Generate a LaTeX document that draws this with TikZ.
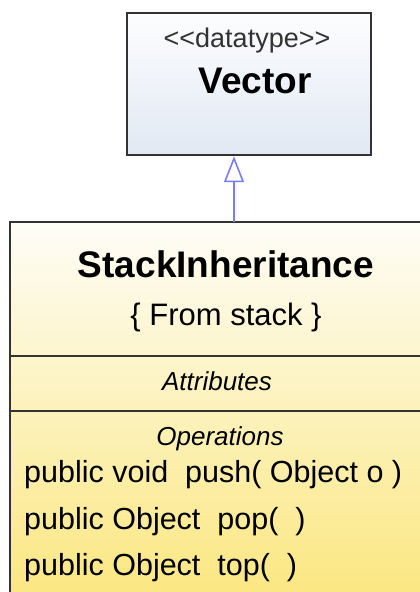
\documentclass[tikz,border=0pt]{standalone}
\usepackage{fontspec}
\setmainfont{Liberation Sans}
\usetikzlibrary{arrows.meta}
\definecolor{boxline}{HTML}{333333}
\definecolor{vtop}{HTML}{FDFDFE}
\definecolor{vbot}{HTML}{E1E9F4}
\definecolor{stop}{HTML}{FEFDF7}
\definecolor{sbot}{HTML}{FBE67C}
\definecolor{genblue}{HTML}{7B7BFF}
\tikzset{
  classbox/.style={draw=boxline, line width=2.4pt, rectangle, inner sep=0pt},
  txt/.style={inner sep=0pt, anchor=base, text=black},
  optxt/.style={inner sep=0pt, anchor=base west, text=black, font=\fontsize{30.5}{36}\selectfont},
  sepline/.style={draw=boxline, line width=2.4pt},
  gen/.style={draw=genblue, line width=1.6pt, -{Triangle[open, length=26pt, width=20pt, line width=1.6pt]}}
}
\begin{document}
\begin{tikzpicture}[x=1pt, y=-1pt]
\useasboundingbox (0,0) rectangle (420,592);
\fill[white] (0,0) rectangle (420,592);
\clip (0,0) rectangle (420,592);
% Vector class
\node[classbox, top color=vtop, bottom color=vbot, minimum width=244pt, minimum height=142pt] (vector) at (249,84) {};
\node[txt, font=\fontsize{27}{32}\selectfont, text=black!80] (stereo) at (247,47) {{<}{<}datatype{>}{>}};
\node[txt, font=\bfseries\fontsize{37}{42}\selectfont] (vname) at (255,93) {Vector};
% StackInheritance class
\node[classbox, top color=stop, bottom color=sbot, minimum width=430pt, minimum height=390pt] (stack) at (225,417) {};
\coordinate (s1w) at (10,356); \coordinate (s1e) at (440,356);
\coordinate (s2w) at (10,411); \coordinate (s2e) at (440,411);
\draw[sepline] (s1w) -- (s1e);
\draw[sepline] (s2w) -- (s2e);
\node[txt, font=\bfseries\fontsize{37}{42}\selectfont] (sname) at (226,277) {StackInheritance};
\node[txt, font=\fontsize{31}{36}\selectfont] (from) at (226,325) {\{ From stack \}};
\node[txt, font=\itshape\fontsize{26}{30}\selectfont] (attr) at (217,390) {Attributes};
\node[txt, font=\itshape\fontsize{26}{30}\selectfont] (ops) at (220,445) {Operations};
\node[optxt] (op1) at (24,482) {public void\ \ push( Object o )};
\node[optxt] (op2) at (24,529) {public Object\ \ pop(\ \ )};
\node[optxt] (op3) at (24,575) {public Object\ \ top(\ \ )};
% generalization
\coordinate (genstart) at (234,222);
\draw[gen] (genstart) -- (genstart |- vector.south);
\end{tikzpicture}
\end{document}
